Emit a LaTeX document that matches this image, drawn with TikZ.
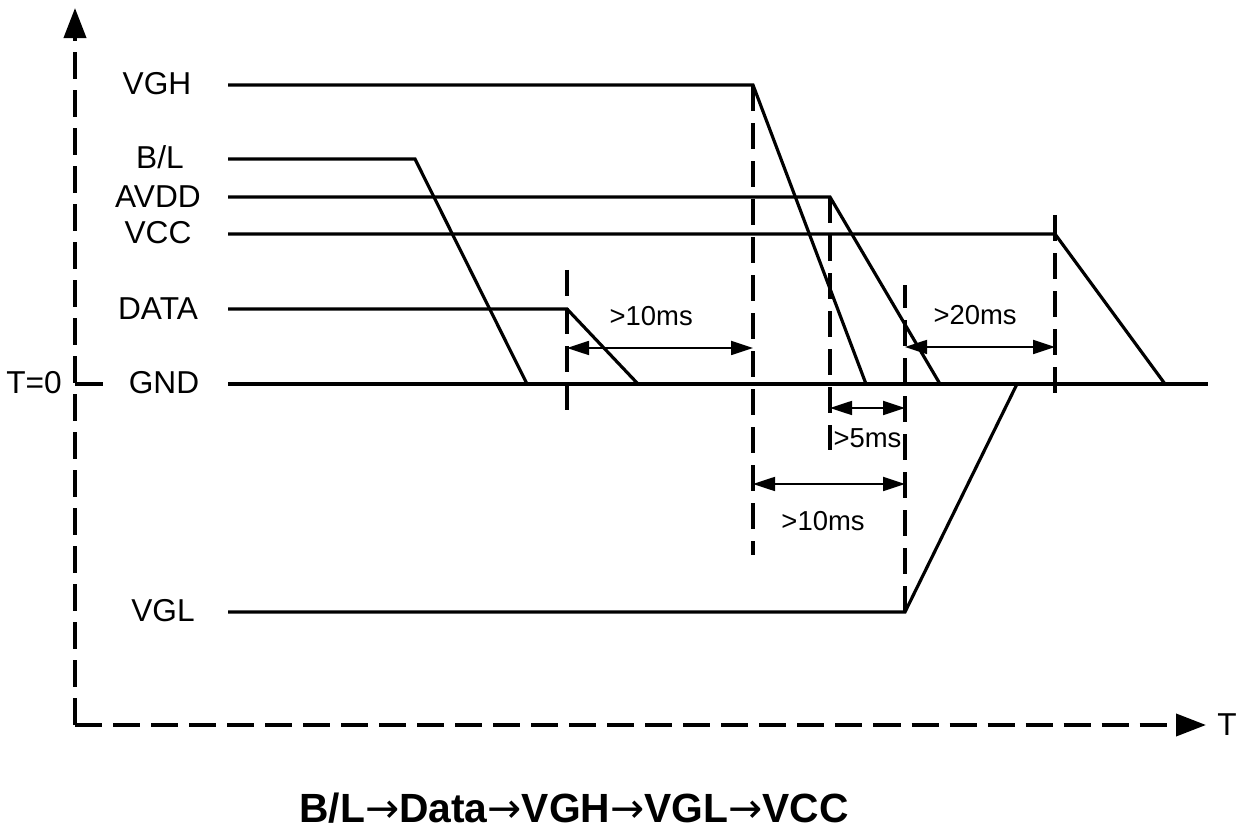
\documentclass[tikz,border=0pt]{standalone}
\usepackage{fontspec}
\setmainfont{Liberation Sans}
\newfontfamily\arrowfont{DejaVu Sans}
\usetikzlibrary{arrows.meta,positioning,calc}
\newcommand{\seqarrow}{{\arrowfont\mdseries →}}
\tikzset{
  % signal trace
  sig/.style={line width=0.9pt},
  % time / level axes
  axisline/.style={line width=1.1pt, dash pattern=on 0.27cm off 0.11cm,
                   -{Triangle[length=0.3cm,width=0.22cm]}},
  % vertical guide at each switching instant
  guide/.style={line width=0.9pt, dash pattern=on 0.26cm off 0.12cm},
  % delay dimension
  dimarr/.style={line width=0.5pt,
                 {Triangle[length=0.22cm,width=0.14cm]}-{Triangle[length=0.22cm,width=0.14cm]}},
  siglabel/.style={font=\fontsize{9}{11}\selectfont, inner sep=1pt},
  dimlabel/.style={font=\fontsize{7.8}{9}\selectfont, inner sep=1pt},
  titlelabel/.style={font=\bfseries\fontsize{11.6}{14}\selectfont}
}
\begin{document}
\begin{tikzpicture}[x=0.01cm, y=-0.01cm]
\useasboundingbox (0,0) rectangle (1249,834);

% ============== axes ==============
\coordinate (origin) at (75,725);
\coordinate (ytop) at (75,8);
\coordinate (xend) at (1206,725);
\draw[axisline] (origin) -- (ytop);
\draw[axisline] (origin) -- (xend);
\node[siglabel, right=6pt of xend, anchor=center] (tlbl) {T};

% T=0 tick
\coordinate (t0) at (75,384);
\coordinate (t0tick) at (103,384);
\draw[sig] (t0) -- (t0tick);
\node[siglabel, anchor=east] (t0lbl) at (66,383) {T=0};

% ============== signal names ==============
\node[siglabel] (vghlbl)  at (157,84)  {VGH};
\node[siglabel] (bllbl)   at (160,157) {B/L};
\node[siglabel] (avddlbl) at (158,197) {AVDD};
\node[siglabel] (vcclbl)  at (158,233) {VCC};
\node[siglabel] (datalbl) at (158,309) {DATA};
\node[siglabel] (gndlbl)  at (164,383) {GND};
\node[siglabel] (vgllbl)  at (163,611) {VGL};

% ============== traces ==============
\draw[sig] (228,85)  -- (753,85)  -- (866,384);   % VGH
\draw[sig] (228,159) -- (415,159) -- (527,384);   % B/L
\draw[sig] (228,197) -- (830,197) -- (940,384);   % AVDD
\draw[sig] (228,234) -- (1055,234) -- (1165,384); % VCC
\draw[sig] (228,309) -- (567,309) -- (638,384);   % DATA
\draw[sig] (228,384) -- (1208,384);               % GND
\draw[sig] (228,612) -- (905,612) -- (1017,384);  % VGL

% ============== switching instants ==============
\coordinate (dataoff) at (567,270);
\coordinate (vghoff)  at (753,85);
\coordinate (avddoff) at (830,197);
\coordinate (vgloff)  at (905,612);
\coordinate (vccoff)  at (1055,215);
\draw[guide] (dataoff) -- (567,410);
\draw[guide] (vghoff)  -- (753,555);
\draw[guide] (avddoff) -- (830,450);
\draw[guide] (vgloff)  -- (905,285);
\draw[guide] (vccoff)  -- (1055,400);

% ============== delays ==============
\draw[dimarr] (dataoff |- 0,348) -- node[dimlabel, above=5pt, xshift=-2.5pt] (d1) {>10ms} (vghoff |- 0,348);
\draw[dimarr] (vgloff |- 0,347)  -- node[dimlabel, above=5pt, xshift=-1.4pt] (d2) {>20ms} (vccoff |- 0,347);
\draw[dimarr] (avddoff |- 0,408) -- node[dimlabel, below=4.5pt] (d3) {>5ms} (vgloff |- 0,408);
\draw[dimarr] (vghoff |- 0,484)  -- node[dimlabel, below=6.5pt, xshift=-1.7pt] (d4) {>10ms} (vgloff |- 0,484);

% ============== sequence ==============
\node[titlelabel] (seq) at (574,808) {B/L\seqarrow Data\seqarrow VGH\seqarrow VGL\seqarrow VCC};

\end{tikzpicture}
\end{document}
